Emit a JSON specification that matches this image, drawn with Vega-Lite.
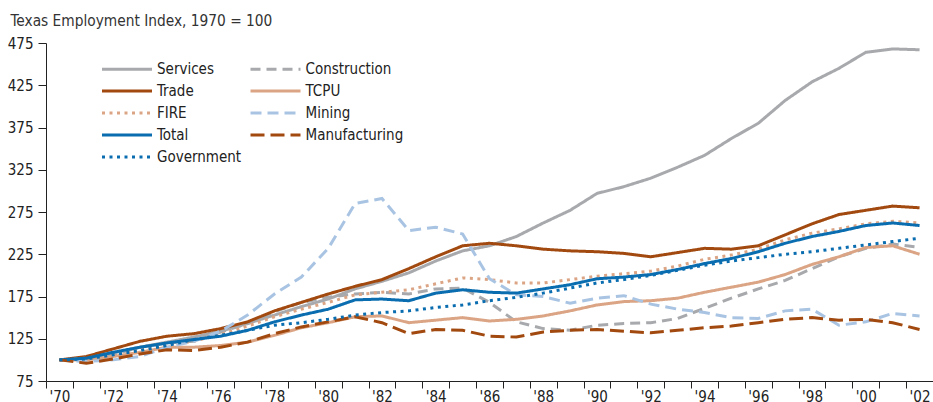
{
"$schema": "https://vega.github.io/schema/vega-lite/v6.json",
"width": 887, "height": 338,
"autosize": {"type": "none"},
"padding": {"left": 46, "top": 43, "right": 0, "bottom": 21},
"background": "white",
"config": {"view": {"stroke": null}, "font": "DejaVu Sans Condensed, Liberation Sans"},
"data": {"values": [
{"year":1970,"series":"Services","value":100},{"year":1971,"series":"Services","value":102},{"year":1972,"series":"Services","value":108},{"year":1973,"series":"Services","value":115},{"year":1974,"series":"Services","value":121},{"year":1975,"series":"Services","value":127},{"year":1976,"series":"Services","value":134},{"year":1977,"series":"Services","value":143},{"year":1978,"series":"Services","value":153},{"year":1979,"series":"Services","value":163},{"year":1980,"series":"Services","value":172},{"year":1981,"series":"Services","value":184},{"year":1982,"series":"Services","value":193},{"year":1983,"series":"Services","value":203},{"year":1984,"series":"Services","value":217},{"year":1985,"series":"Services","value":229},{"year":1986,"series":"Services","value":235},{"year":1987,"series":"Services","value":246},{"year":1988,"series":"Services","value":262},{"year":1989,"series":"Services","value":277},{"year":1990,"series":"Services","value":297},{"year":1991,"series":"Services","value":305},{"year":1992,"series":"Services","value":315},{"year":1993,"series":"Services","value":328},{"year":1994,"series":"Services","value":342},{"year":1995,"series":"Services","value":362},{"year":1996,"series":"Services","value":380},{"year":1997,"series":"Services","value":407},{"year":1998,"series":"Services","value":429},{"year":1999,"series":"Services","value":445},{"year":2000,"series":"Services","value":464},{"year":2001,"series":"Services","value":468},{"year":2002,"series":"Services","value":467},
{"year":1970,"series":"Construction","value":100},{"year":1971,"series":"Construction","value":101},{"year":1972,"series":"Construction","value":106},{"year":1973,"series":"Construction","value":115},{"year":1974,"series":"Construction","value":120},{"year":1975,"series":"Construction","value":122},{"year":1976,"series":"Construction","value":133},{"year":1977,"series":"Construction","value":143},{"year":1978,"series":"Construction","value":157},{"year":1979,"series":"Construction","value":168},{"year":1980,"series":"Construction","value":174},{"year":1981,"series":"Construction","value":178},{"year":1982,"series":"Construction","value":180},{"year":1983,"series":"Construction","value":178},{"year":1984,"series":"Construction","value":184},{"year":1985,"series":"Construction","value":185},{"year":1986,"series":"Construction","value":168},{"year":1987,"series":"Construction","value":145},{"year":1988,"series":"Construction","value":137},{"year":1989,"series":"Construction","value":135},{"year":1990,"series":"Construction","value":141},{"year":1991,"series":"Construction","value":143},{"year":1992,"series":"Construction","value":144},{"year":1993,"series":"Construction","value":149},{"year":1994,"series":"Construction","value":161},{"year":1995,"series":"Construction","value":173},{"year":1996,"series":"Construction","value":184},{"year":1997,"series":"Construction","value":194},{"year":1998,"series":"Construction","value":208},{"year":1999,"series":"Construction","value":222},{"year":2000,"series":"Construction","value":232},{"year":2001,"series":"Construction","value":237},{"year":2002,"series":"Construction","value":233},
{"year":1970,"series":"Trade","value":100},{"year":1971,"series":"Trade","value":104},{"year":1972,"series":"Trade","value":113},{"year":1973,"series":"Trade","value":122},{"year":1974,"series":"Trade","value":128},{"year":1975,"series":"Trade","value":131},{"year":1976,"series":"Trade","value":137},{"year":1977,"series":"Trade","value":145},{"year":1978,"series":"Trade","value":158},{"year":1979,"series":"Trade","value":168},{"year":1980,"series":"Trade","value":178},{"year":1981,"series":"Trade","value":187},{"year":1982,"series":"Trade","value":195},{"year":1983,"series":"Trade","value":208},{"year":1984,"series":"Trade","value":222},{"year":1985,"series":"Trade","value":235},{"year":1986,"series":"Trade","value":238},{"year":1987,"series":"Trade","value":235},{"year":1988,"series":"Trade","value":231},{"year":1989,"series":"Trade","value":229},{"year":1990,"series":"Trade","value":228},{"year":1991,"series":"Trade","value":226},{"year":1992,"series":"Trade","value":222},{"year":1993,"series":"Trade","value":227},{"year":1994,"series":"Trade","value":232},{"year":1995,"series":"Trade","value":231},{"year":1996,"series":"Trade","value":235},{"year":1997,"series":"Trade","value":248},{"year":1998,"series":"Trade","value":261},{"year":1999,"series":"Trade","value":272},{"year":2000,"series":"Trade","value":277},{"year":2001,"series":"Trade","value":282},{"year":2002,"series":"Trade","value":280},
{"year":1970,"series":"TCPU","value":100},{"year":1971,"series":"TCPU","value":100},{"year":1972,"series":"TCPU","value":104},{"year":1973,"series":"TCPU","value":109},{"year":1974,"series":"TCPU","value":115},{"year":1975,"series":"TCPU","value":115},{"year":1976,"series":"TCPU","value":117},{"year":1977,"series":"TCPU","value":121},{"year":1978,"series":"TCPU","value":129},{"year":1979,"series":"TCPU","value":138},{"year":1980,"series":"TCPU","value":144},{"year":1981,"series":"TCPU","value":151},{"year":1982,"series":"TCPU","value":152},{"year":1983,"series":"TCPU","value":144},{"year":1984,"series":"TCPU","value":147},{"year":1985,"series":"TCPU","value":150},{"year":1986,"series":"TCPU","value":146},{"year":1987,"series":"TCPU","value":148},{"year":1988,"series":"TCPU","value":152},{"year":1989,"series":"TCPU","value":158},{"year":1990,"series":"TCPU","value":165},{"year":1991,"series":"TCPU","value":169},{"year":1992,"series":"TCPU","value":170},{"year":1993,"series":"TCPU","value":173},{"year":1994,"series":"TCPU","value":180},{"year":1995,"series":"TCPU","value":186},{"year":1996,"series":"TCPU","value":192},{"year":1997,"series":"TCPU","value":201},{"year":1998,"series":"TCPU","value":213},{"year":1999,"series":"TCPU","value":222},{"year":2000,"series":"TCPU","value":233},{"year":2001,"series":"TCPU","value":235},{"year":2002,"series":"TCPU","value":225},
{"year":1970,"series":"FIRE","value":100},{"year":1971,"series":"FIRE","value":102},{"year":1972,"series":"FIRE","value":107},{"year":1973,"series":"FIRE","value":113},{"year":1974,"series":"FIRE","value":118},{"year":1975,"series":"FIRE","value":122},{"year":1976,"series":"FIRE","value":130},{"year":1977,"series":"FIRE","value":140},{"year":1978,"series":"FIRE","value":151},{"year":1979,"series":"FIRE","value":160},{"year":1980,"series":"FIRE","value":168},{"year":1981,"series":"FIRE","value":177},{"year":1982,"series":"FIRE","value":180},{"year":1983,"series":"FIRE","value":183},{"year":1984,"series":"FIRE","value":190},{"year":1985,"series":"FIRE","value":197},{"year":1986,"series":"FIRE","value":195},{"year":1987,"series":"FIRE","value":191},{"year":1988,"series":"FIRE","value":191},{"year":1989,"series":"FIRE","value":195},{"year":1990,"series":"FIRE","value":199},{"year":1991,"series":"FIRE","value":202},{"year":1992,"series":"FIRE","value":205},{"year":1993,"series":"FIRE","value":211},{"year":1994,"series":"FIRE","value":219},{"year":1995,"series":"FIRE","value":224},{"year":1996,"series":"FIRE","value":231},{"year":1997,"series":"FIRE","value":242},{"year":1998,"series":"FIRE","value":250},{"year":1999,"series":"FIRE","value":255},{"year":2000,"series":"FIRE","value":261},{"year":2001,"series":"FIRE","value":264},{"year":2002,"series":"FIRE","value":262},
{"year":1970,"series":"Mining","value":100},{"year":1971,"series":"Mining","value":98},{"year":1972,"series":"Mining","value":100},{"year":1973,"series":"Mining","value":104},{"year":1974,"series":"Mining","value":115},{"year":1975,"series":"Mining","value":122},{"year":1976,"series":"Mining","value":134},{"year":1977,"series":"Mining","value":153},{"year":1978,"series":"Mining","value":178},{"year":1979,"series":"Mining","value":198},{"year":1980,"series":"Mining","value":232},{"year":1981,"series":"Mining","value":285},{"year":1982,"series":"Mining","value":291},{"year":1983,"series":"Mining","value":253},{"year":1984,"series":"Mining","value":257},{"year":1985,"series":"Mining","value":249},{"year":1986,"series":"Mining","value":196},{"year":1987,"series":"Mining","value":177},{"year":1988,"series":"Mining","value":175},{"year":1989,"series":"Mining","value":167},{"year":1990,"series":"Mining","value":173},{"year":1991,"series":"Mining","value":176},{"year":1992,"series":"Mining","value":166},{"year":1993,"series":"Mining","value":160},{"year":1994,"series":"Mining","value":156},{"year":1995,"series":"Mining","value":150},{"year":1996,"series":"Mining","value":149},{"year":1997,"series":"Mining","value":158},{"year":1998,"series":"Mining","value":160},{"year":1999,"series":"Mining","value":141},{"year":2000,"series":"Mining","value":145},{"year":2001,"series":"Mining","value":155},{"year":2002,"series":"Mining","value":152},
{"year":1970,"series":"Total","value":100},{"year":1971,"series":"Total","value":102},{"year":1972,"series":"Total","value":109},{"year":1973,"series":"Total","value":115},{"year":1974,"series":"Total","value":120},{"year":1975,"series":"Total","value":124},{"year":1976,"series":"Total","value":128},{"year":1977,"series":"Total","value":135},{"year":1978,"series":"Total","value":145},{"year":1979,"series":"Total","value":153},{"year":1980,"series":"Total","value":160},{"year":1981,"series":"Total","value":171},{"year":1982,"series":"Total","value":172},{"year":1983,"series":"Total","value":170},{"year":1984,"series":"Total","value":179},{"year":1985,"series":"Total","value":183},{"year":1986,"series":"Total","value":180},{"year":1987,"series":"Total","value":179},{"year":1988,"series":"Total","value":184},{"year":1989,"series":"Total","value":189},{"year":1990,"series":"Total","value":196},{"year":1991,"series":"Total","value":198},{"year":1992,"series":"Total","value":201},{"year":1993,"series":"Total","value":207},{"year":1994,"series":"Total","value":214},{"year":1995,"series":"Total","value":220},{"year":1996,"series":"Total","value":228},{"year":1997,"series":"Total","value":238},{"year":1998,"series":"Total","value":246},{"year":1999,"series":"Total","value":252},{"year":2000,"series":"Total","value":259},{"year":2001,"series":"Total","value":262},{"year":2002,"series":"Total","value":259},
{"year":1970,"series":"Manufacturing","value":100},{"year":1971,"series":"Manufacturing","value":96},{"year":1972,"series":"Manufacturing","value":101},{"year":1973,"series":"Manufacturing","value":107},{"year":1974,"series":"Manufacturing","value":112},{"year":1975,"series":"Manufacturing","value":111},{"year":1976,"series":"Manufacturing","value":115},{"year":1977,"series":"Manufacturing","value":121},{"year":1978,"series":"Manufacturing","value":131},{"year":1979,"series":"Manufacturing","value":139},{"year":1980,"series":"Manufacturing","value":145},{"year":1981,"series":"Manufacturing","value":151},{"year":1982,"series":"Manufacturing","value":144},{"year":1983,"series":"Manufacturing","value":131},{"year":1984,"series":"Manufacturing","value":136},{"year":1985,"series":"Manufacturing","value":135},{"year":1986,"series":"Manufacturing","value":128},{"year":1987,"series":"Manufacturing","value":127},{"year":1988,"series":"Manufacturing","value":133},{"year":1989,"series":"Manufacturing","value":135},{"year":1990,"series":"Manufacturing","value":136},{"year":1991,"series":"Manufacturing","value":134},{"year":1992,"series":"Manufacturing","value":132},{"year":1993,"series":"Manufacturing","value":135},{"year":1994,"series":"Manufacturing","value":138},{"year":1995,"series":"Manufacturing","value":140},{"year":1996,"series":"Manufacturing","value":144},{"year":1997,"series":"Manufacturing","value":148},{"year":1998,"series":"Manufacturing","value":150},{"year":1999,"series":"Manufacturing","value":147},{"year":2000,"series":"Manufacturing","value":148},{"year":2001,"series":"Manufacturing","value":144},{"year":2002,"series":"Manufacturing","value":136},
{"year":1970,"series":"Government","value":100},{"year":1971,"series":"Government","value":101},{"year":1972,"series":"Government","value":106},{"year":1973,"series":"Government","value":111},{"year":1974,"series":"Government","value":117},{"year":1975,"series":"Government","value":124},{"year":1976,"series":"Government","value":129},{"year":1977,"series":"Government","value":135},{"year":1978,"series":"Government","value":141},{"year":1979,"series":"Government","value":144},{"year":1980,"series":"Government","value":148},{"year":1981,"series":"Government","value":153},{"year":1982,"series":"Government","value":156},{"year":1983,"series":"Government","value":158},{"year":1984,"series":"Government","value":162},{"year":1985,"series":"Government","value":165},{"year":1986,"series":"Government","value":170},{"year":1987,"series":"Government","value":174},{"year":1988,"series":"Government","value":179},{"year":1989,"series":"Government","value":185},{"year":1990,"series":"Government","value":191},{"year":1991,"series":"Government","value":195},{"year":1992,"series":"Government","value":200},{"year":1993,"series":"Government","value":206},{"year":1994,"series":"Government","value":212},{"year":1995,"series":"Government","value":217},{"year":1996,"series":"Government","value":221},{"year":1997,"series":"Government","value":225},{"year":1998,"series":"Government","value":228},{"year":1999,"series":"Government","value":232},{"year":2000,"series":"Government","value":236},{"year":2001,"series":"Government","value":240},{"year":2002,"series":"Government","value":244}
]},
"mark": {"type": "line", "strokeWidth": 3},
"encoding": {
  "x": {"field": "year", "type": "ordinal", "bandPosition": 0.5,
    "scale": {"type": "band", "paddingInner": 0, "paddingOuter": 0},
    "axis": {"title": null, "tickBand": "extent", "labelAngle": 0,
      "labelExpr": "datum.value % 2 == 0 ? \"'\" + substring(toString(datum.value), 2, 4) : ''",
      "tickSize": 7, "labelPadding": 1, "labelFontSize": 15, "labelColor": "#222",
      "domainColor": "#222", "tickColor": "#222", "grid": false, "labelOverlap": false}},
  "y": {"field": "value", "type": "quantitative",
    "scale": {"domain": [75, 475], "nice": false, "zero": false},
    "axis": {"values": [75,125,175,225,275,325,375,425,475],
      "title": "Texas Employment Index, 1970 = 100", "titleAngle": 0, "titleAlign": "left",
      "titleBaseline": "alphabetic", "titleX": -36, "titleY": -18, "titleFontSize": 15.3,
      "titleFontWeight": "normal", "titleColor": "#333",
      "tickSize": 8, "labelPadding": 5, "labelFontSize": 15, "labelColor": "#222",
      "domainColor": "#222", "tickColor": "#222", "grid": false}},
  "color": {"field": "series", "type": "nominal",
    "scale": {"domain": ["Services","Trade","FIRE","Total","Government","Construction","TCPU","Mining","Manufacturing"],
      "range": ["#a7a9ac","#a1490f","#dba585","#0a6db0","#0a6db0","#a7a9ac","#dba585","#a9c4e3","#a1490f"]},
    "legend": {"orient": "none", "legendX": 73.5, "legendY": 18.5, "columns": 2, "title": null,
      "symbolType": "M-5,0H5", "symbolSize": 100, "symbolStrokeWidth": 3,
      "labelFontSize": 15, "labelColor": "#222", "labelOffset": 22.5, "rowPadding": 6,
      "columnPadding": 2.5, "padding": 0, "labelLimit": 300}},
  "strokeDash": {"field": "series", "type": "nominal",
    "scale": {"domain": ["Services","Trade","FIRE","Total","Government","Construction","TCPU","Mining","Manufacturing"],
      "range": [[1,0],[1,0],[3,4.5],[1,0],[3,4.5],[10,6],[1,0],[11,6],[14,6]]},
    "legend": {"orient": "none", "legendX": 73.5, "legendY": 18.5, "columns": 2, "title": null,
      "symbolType": "M-5,0H5", "symbolSize": 100, "symbolStrokeWidth": 3,
      "labelFontSize": 15, "labelColor": "#222", "labelOffset": 22.5, "rowPadding": 6,
      "columnPadding": 2.5, "padding": 0, "labelLimit": 300}}
}
}
